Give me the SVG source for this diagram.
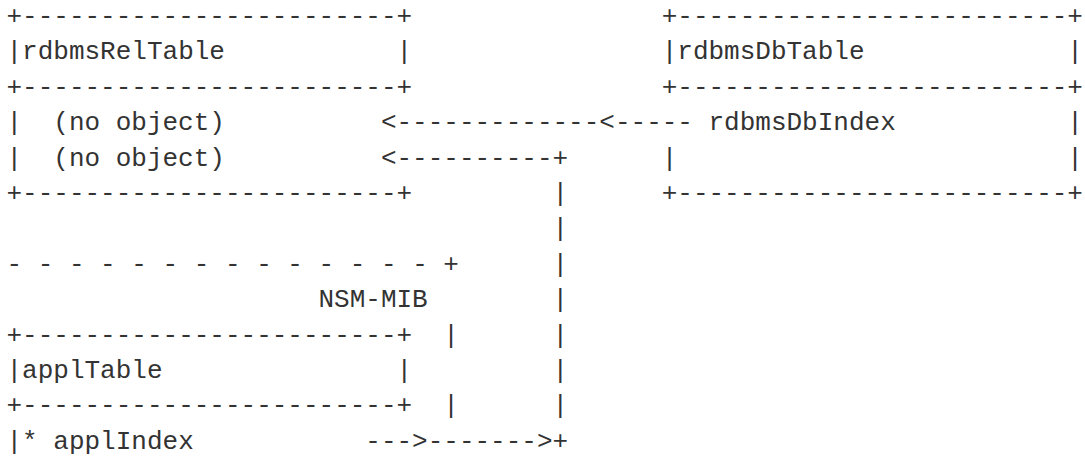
<svg xmlns="http://www.w3.org/2000/svg" width="1085" height="457" viewBox="0 0 1085 457">
<style>
text{font-family:"Liberation Mono","DejaVu Sans Mono",monospace;font-size:26px;fill:#333;white-space:pre}
</style>
<rect width="1085" height="457" fill="#fff"/>
<g id="rdbmsRelTable">
<text x="6.5" y="24">+------------------------+</text>
<text x="6.5" y="59.4">|rdbmsRelTable</text>
<text x="396.5" y="59.4">|</text>
<text x="6.5" y="94.8">+------------------------+</text>
<text x="6.5" y="130.2">|</text>
<text x="53.3" y="130.2">(no object)</text>
<text x="6.5" y="165.6">|</text>
<text x="53.3" y="165.6">(no object)</text>
<text x="6.5" y="201">+------------------------+</text>
</g>
<g id="rdbmsDbTable">
<text x="661.7" y="24">+-------------------------+</text>
<text x="661.7" y="59.4">|rdbmsDbTable</text>
<text x="1067.3" y="59.4">|</text>
<text x="661.7" y="94.8">+-------------------------+</text>
<text x="708.5" y="130.2">rdbmsDbIndex</text>
<text x="1067.3" y="130.2">|</text>
<text x="661.7" y="165.6">|</text>
<text x="1067.3" y="165.6">|</text>
<text x="661.7" y="201">+-------------------------+</text>
</g>
<g id="nsm-mib">
<text x="6.5" y="271.8">- - - - - - - - - - - - - - +</text>
<text x="318.5" y="307.2">NSM-MIB</text>
<text x="443.3" y="342.6">|</text>
<text x="443.3" y="413.4">|</text>
</g>
<g id="applTable">
<text x="6.5" y="342.6">+------------------------+</text>
<text x="6.5" y="378">|applTable</text>
<text x="396.5" y="378">|</text>
<text x="6.5" y="413.4">+------------------------+</text>
<text x="6.5" y="448.8">|* applIndex</text>
</g>
<g id="connectors">
<text x="380.9" y="130.2">&lt;-------------&lt;-----</text>
<text x="380.9" y="165.6">&lt;----------+</text>
<text x="552.5" y="201">|</text>
<text x="552.5" y="236.4">|</text>
<text x="552.5" y="271.8">|</text>
<text x="552.5" y="307.2">|</text>
<text x="552.5" y="342.6">|</text>
<text x="552.5" y="378">|</text>
<text x="552.5" y="413.4">|</text>
<text x="365.3" y="448.8">---&gt;-------&gt;+</text>
</g>
</svg>
